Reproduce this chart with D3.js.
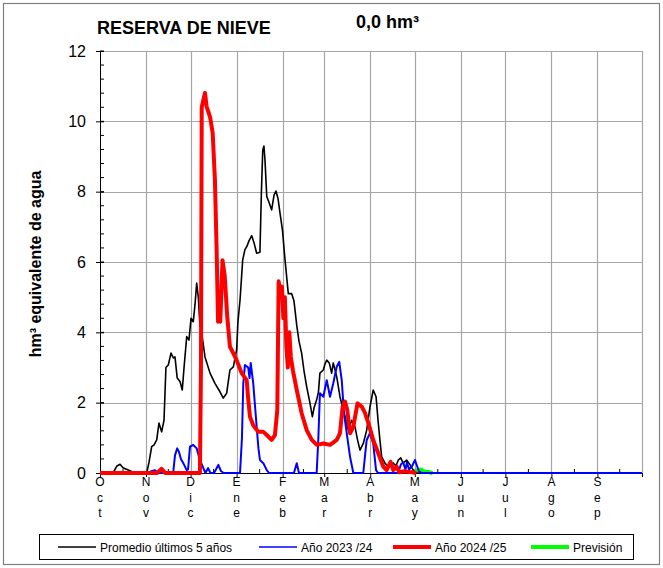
<!DOCTYPE html>
<html>
<head>
<meta charset="utf-8">
<script src="https://cdn.jsdelivr.net/npm/d3@7"></script>
<style>
  body { margin: 0; background: #fff; }
  text { font-family: "Liberation Sans", Arial, sans-serif; fill: #000; }
</style>
</head>
<body>
<svg width="663" height="568"></svg>
<script>
// month labels and the day of the hydrological year where each month starts
var months = ['Oct', 'Nov', 'Dic', 'Ene', 'Feb', 'Mar', 'Abr', 'May', 'Jun', 'Jul', 'Ago', 'Sep'];
var monthStart = [0, 31, 61, 92, 123, 151, 182, 212, 243, 273, 304, 335];
var yTicks = [0, 2, 4, 6, 8, 10, 12];

// [day, hm3]
var promedio = [
  [0, 0], [8.8, 0], [11.4, 0.2], [13.5, 0.25], [15.5, 0.15], [18.2, 0.1], [20.9, 0.05], [23.6, 0],
  [31.4, 0], [33, 0.3], [34.8, 0.75], [36.4, 0.8], [38.2, 0.94], [39.7, 1.42], [41.5, 1.17], [43.1, 1.5],
  [44.4, 3.0], [46, 3.07], [47.8, 3.41], [49.4, 3.27], [50.5, 3.3], [52, 2.7], [53.9, 2.6], [55.4, 2.36],
  [56.6, 3.0], [58.4, 3.88], [59.9, 3.78], [61.3, 4.4], [62.8, 4.3], [64, 4.8], [65.1, 5.4], [66.2, 5.0],
  [67.3, 4.2], [68.5, 3.97], [70.7, 3.3], [74.1, 2.84], [77.4, 2.55], [80.8, 2.31], [83, 2.13], [85.3, 2.27],
  [87.5, 2.93], [89.8, 3.02], [92, 3.5], [92.9, 4.3], [94.3, 4.92], [96.1, 6.06], [97.6, 6.35], [99, 6.45],
  [100.3, 6.6], [102.2, 6.75], [103.7, 6.55], [105.5, 6.25], [107.7, 6.28], [108.7, 8.0], [109.6, 9.18],
  [110.4, 9.3], [111.1, 8.9], [112.3, 7.86], [113.8, 7.7], [115.6, 7.48], [117.2, 7.9], [118.5, 8.02],
  [119.9, 7.8], [121.2, 7.4], [122.9, 6.9], [124.6, 6.06], [126.8, 5.1], [129.1, 5.1], [130.6, 4.9],
  [132.5, 4.2], [134, 3.75], [135.8, 3.4], [137.4, 2.9], [139.2, 2.45], [141.4, 1.99], [143, 1.6],
  [144.3, 1.88], [145.9, 2.08], [147.1, 2.3], [148.1, 2.84], [150.4, 2.93], [151.5, 3.1], [152.7, 3.21],
  [154.4, 3.13], [156, 2.84], [157.1, 3.13], [159.4, 2.74], [161.6, 2.17], [163.8, 1.79], [165.7, 1.5],
  [167.2, 1.22], [169.5, 1.5], [171.7, 1.32], [173.4, 0.95], [175.1, 0.65], [177.3, 0.84], [179.6, 1.22],
  [181.8, 1.88], [184, 2.36], [185.9, 2.17], [187.4, 1.42], [188.6, 0.9], [189.7, 0.46], [191.9, 0.28],
  [194.1, 0.18], [197.5, 0.28], [199.3, 0.2], [200.9, 0.37], [202.5, 0.43], [204.2, 0.28], [206.5, 0.37],
  [208.8, 0.23], [211, 0.08], [212.8, 0], [218, 0]
];

var ano2324 = [
  [0, 0], [33, 0], [34.5, 0.05], [37, 0.08], [39, 0], [48.5, 0], [49.4, 0.05], [50.5, 0.5], [52, 0.7],
  [53.2, 0.6], [54.5, 0.4], [56.1, 0.28], [58.4, 0.08], [59.3, 0.1], [60.6, 0.75], [62.8, 0.8], [65.1, 0.7],
  [67.3, 0.37], [69.6, 0.14], [71, 0], [72.8, 0.14], [74.4, 0], [76.8, 0], [79.7, 0.23], [81.5, 0.05],
  [83.5, 0], [94.3, 0], [95.6, 1.0], [96.5, 2.55], [97.6, 3.07], [99.8, 3.0], [100.7, 2.7], [101.5, 3.13],
  [103.2, 2.55], [104.4, 1.9], [105.5, 1.32], [106.7, 0.7], [107.7, 0.37], [110, 0.28], [112.3, 0.08],
  [113.8, 0], [130.6, 0], [132.5, 0.28], [134, 0], [145.9, 0], [147, 0.94], [148.1, 2.27], [150.4, 2.17],
  [152.7, 2.64], [154.9, 2.17], [157.1, 2.55], [159.4, 3.02], [161.1, 3.16], [162.8, 2.64], [164.3, 1.7],
  [166.5, 1.03], [168.4, 0.46], [170.6, 0], [177.3, 0], [178.5, 0.5], [179.6, 0.94], [181.8, 1.13],
  [184, 0.84], [185.9, 0.08], [187.2, 0], [200.7, 0], [202.7, 0.25], [204.2, 0.3], [205.7, 0.1],
  [206.7, 0.3], [208.1, 0.1], [210.2, 0.2], [212.1, 0.37], [213.5, 0.2], [214.8, 0.05], [216.8, 0], [365, 0]
];

var ano2425 = [
  [0, 0], [38.4, 0], [41.5, 0.12], [43.8, 0], [67.3, 0], [68, 3], [68.5, 10.4], [70.7, 10.81], [71.8, 10.42],
  [74.1, 10.13], [75.9, 9.66], [77.4, 8.33], [78.5, 6.43], [79.5, 4.3], [80.2, 4.55], [81, 4.3], [82.5, 6.05],
  [84, 5.6], [85.7, 4.44], [87.5, 3.59], [89.8, 3.4], [92, 3.21], [95.4, 2.84], [98.8, 2.64], [99.6, 2.2],
  [101, 1.6], [103.2, 1.36], [106.6, 1.17], [110, 1.17], [112.3, 1.08], [115.6, 0.94], [117.8, 1.08],
  [119.4, 1.79], [120.3, 5.45], [121.5, 5.1], [122.5, 5.3], [123.5, 4.4], [124.5, 5.0], [125.5, 3.6],
  [126.5, 3.0], [127.5, 4.0], [128.5, 3.3], [130, 2.9], [132.5, 2.36], [135.8, 1.7], [139.2, 1.22],
  [142.6, 0.94], [146, 0.8], [150.4, 0.84], [155, 0.8], [159.4, 0.94], [161.6, 1.13], [163.4, 1.88],
  [165, 2.03], [166.5, 1.79], [168.4, 1.13], [170.6, 1.32], [173.4, 1.98], [176.4, 1.88], [178.5, 1.7],
  [180.8, 1.41], [184, 0.94], [187.4, 0.56], [190.8, 0.18], [193, 0.08], [195.7, 0.32], [197.5, 0.08],
  [199.8, 0.18], [201.6, 0.02], [205, 0.05], [210, 0.02], [213, 0]
];

var prevision = [
  [211.5, 0.05], [214, 0.08], [216, 0.1], [218, 0.05], [222, 0.02], [224, 0]
];

var legendItems = [
  { label: 'Promedio últimos 5 años', color: '#000000', width: 1.5 },
  { label: 'Año 2023 /24', color: '#0000ff', width: 1.5 },
  { label: 'Año 2024 /25', color: '#ff0000', width: 4 },
  { label: 'Previsión', color: '#00ff00', width: 4 }
];

var svg = d3.select('svg');

var margin = { left: 100, right: 21, top: 51, bottom: 95 };
var width = 663 - margin.left - margin.right;
var height = 568 - margin.top - margin.bottom;

var x = d3.scaleLinear().domain([0, 365]).range([margin.left, margin.left + width]);
var y = d3.scaleLinear().domain([0, 12]).range([margin.top + height, margin.top]);

// outer frame
svg.append('rect')
    .attr('x', 3.5).attr('y', 3.5)
    .attr('width', 656).attr('height', 561)
    .attr('fill', 'none')
    .attr('stroke', '#808080')
    .attr('stroke-width', 1.2);

// titles
svg.append('text')
    .attr('x', 97).attr('y', 34)
    .style('font-size', '18px').style('font-weight', 'bold')
    .text('RESERVA DE NIEVE');

svg.append('text')
    .attr('x', 356).attr('y', 28)
    .style('font-size', '18px').style('font-weight', 'bold')
    .text('0,0 hm³');

// gridlines
var grid = svg.append('g').attr('stroke', '#a6a6a6').attr('stroke-width', 1.2);

grid.selectAll('.hgrid')
  .data(yTicks.filter(d => d > 0))
  .enter()
    .append('line')
    .attr('x1', x(0)).attr('x2', x(365))
    .attr('y1', d => Math.round(y(d)) + 0.5).attr('y2', d => Math.round(y(d)) + 0.5);

grid.selectAll('.vgrid')
  .data(monthStart.slice(1).concat([365]))
  .enter()
    .append('line')
    .attr('x1', d => Math.round(x(d)) + 0.5).attr('x2', d => Math.round(x(d)) + 0.5)
    .attr('y1', y(0)).attr('y2', y(12));

// y axis with minor ticks every 0.4
var yAxis = svg.append('g')
    .attr('transform', `translate(${x(0)},0)`)
    .call(d3.axisLeft(y).tickValues(yTicks).tickSize(4).tickPadding(10).tickSizeOuter(0));
yAxis.select('.domain').attr('stroke', '#000');
yAxis.selectAll('.tick line').attr('x1', -4).attr('x2', 4);
yAxis.selectAll('.tick text')
    .style('font-size', '16px')
    .style('font-family', '"Liberation Sans", Arial, sans-serif');

yAxis.selectAll('.minor')
  .data(d3.range(0, 12.01, 0.4))
  .enter()
    .append('line')
    .attr('x1', 0).attr('x2', 4)
    .attr('y1', d => y(d)).attr('y2', d => y(d))
    .attr('stroke', '#000');

svg.append('text')
    .attr('transform', `translate(41,${y(6) + 2}) rotate(-90)`)
    .attr('text-anchor', 'middle')
    .style('font-size', '16px').style('font-weight', 'bold')
    .text('hm³ equivalente de agua');

// x axis: month ticks down, mid-month ticks up
var xAxis = svg.append('g')
    .attr('transform', `translate(0,${y(0)})`)
    .call(d3.axisBottom(x).tickValues(monthStart.concat([365])).tickSize(4).tickFormat(''));
xAxis.select('.domain').attr('stroke', '#000');

var mids = monthStart.map((d, i) => (d + (monthStart[i + 1] || 365)) / 2);
xAxis.selectAll('.minor')
  .data(mids)
  .enter()
    .append('line')
    .attr('x1', d => x(d)).attr('x2', d => x(d))
    .attr('y1', 0).attr('y2', -4)
    .attr('stroke', '#000');

// month names written one letter under the other
var monthLabels = svg.append('g').style('font-size', '12px');
monthLabels.selectAll('.month')
  .data(months)
  .enter()
    .append('text')
    .attr('text-anchor', 'middle')
    .attr('x', (d, i) => x(monthStart[i]))
    .attr('y', y(0) + 13)
    .each(function(d) {
      var t = d3.select(this);
      d.split('').forEach((ch, k) => {
        t.append('tspan')
          .attr('x', t.attr('x'))
          .attr('dy', k === 0 ? 0 : 15.5)
          .text(ch);
      });
    });

// series
var line = d3.line().x(d => x(d[0])).y(d => y(d[1]));

var plot = svg.append('g').attr('fill', 'none').attr('stroke-linejoin', 'round');

plot.append('path').datum(prevision)
    .attr('d', line).attr('stroke', '#00ff00').attr('stroke-width', 4);
plot.append('path').datum(promedio)
    .attr('d', line).attr('stroke', '#000').attr('stroke-width', 1.6);
plot.append('path').datum(ano2324)
    .attr('d', line).attr('stroke', '#0000ff').attr('stroke-width', 2);
plot.append('path').datum(ano2425)
    .attr('d', line).attr('stroke', '#ff0000').attr('stroke-width', 4);

// legend
var legend = svg.append('g');
legend.append('rect')
    .attr('x', 39.5).attr('y', 534.5)
    .attr('width', 594).attr('height', 25)
    .attr('fill', '#fff')
    .attr('stroke', '#000').attr('stroke-width', 1);

var legendX = [58, 259, 393, 531];
var item = legend.selectAll('.item')
  .data(legendItems)
  .enter()
    .append('g')
    .attr('transform', (d, i) => `translate(${legendX[i]},547)`);

item.append('line')
    .attr('x1', 0).attr('x2', 38)
    .attr('stroke', d => d.color)
    .attr('stroke-width', d => d.width);

item.append('text')
    .attr('x', 42).attr('y', 4.5)
    .style('font-size', '12px')
    .text(d => d.label);
</script>
</body>
</html>
